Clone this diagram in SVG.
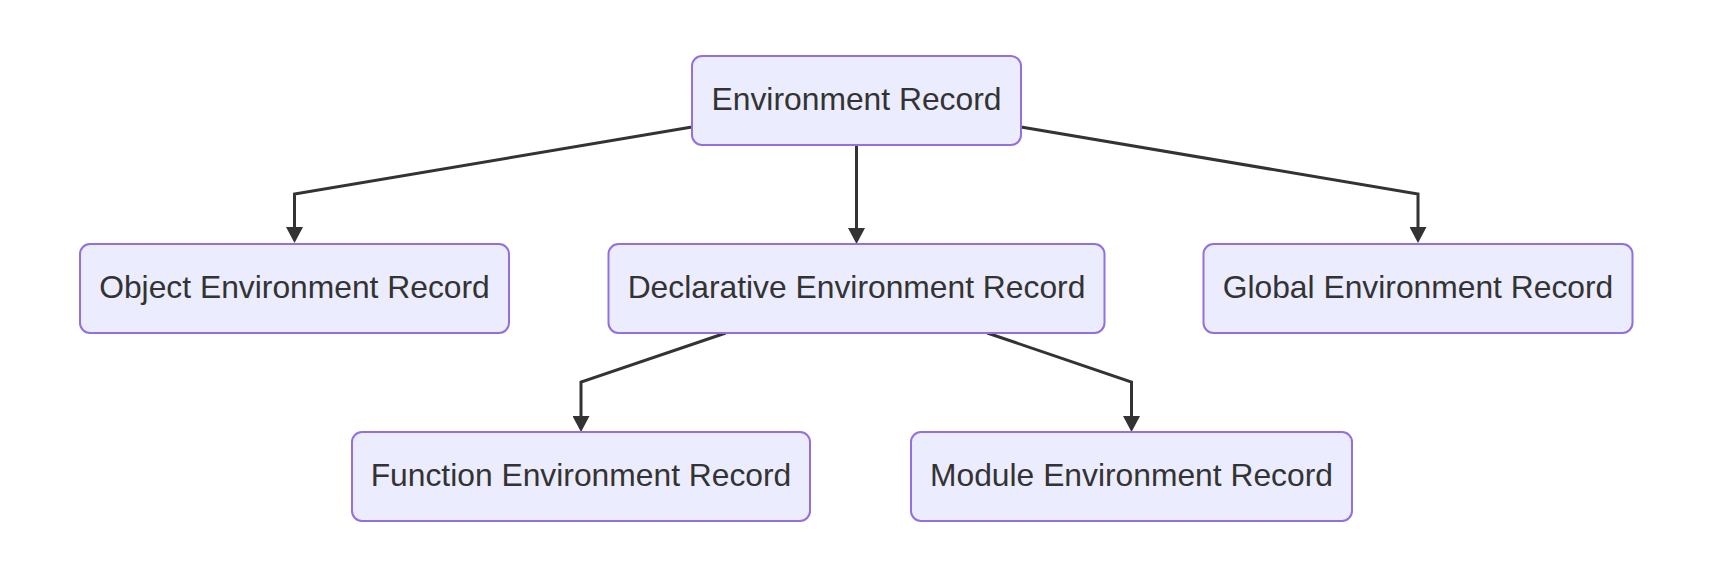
<svg xmlns="http://www.w3.org/2000/svg" width="1712" height="578" viewBox="0 0 1712 578">
<style>
.node rect{fill:#ECECFF;stroke:#9370DB;stroke-width:2}
.node text{font-family:"Liberation Sans",Arial,sans-serif;font-size:31.8px;fill:#333;text-anchor:middle}
.edge{fill:none;stroke:#333;stroke-width:3;marker-end:url(#arrow)}
</style>
<defs>
<marker id="arrow" viewBox="0 0 16 17" refX="1" refY="8.5" markerWidth="16" markerHeight="17" markerUnits="userSpaceOnUse" orient="auto">
<path d="M0,0 L16,8.5 L0,17 z" fill="#333"/>
</marker>
</defs>
<rect width="1712" height="578" fill="#fff"/>
<g id="connectors">
<polyline class="edge" points="692,127 294.5,194 294.5,228"/>
<polyline class="edge" points="856.5,145 856.5,229"/>
<polyline class="edge" points="1021,127 1418,194 1418,228"/>
<polyline class="edge" points="725.7,333 581,382 581,417"/>
<polyline class="edge" points="987.3,333 1131.5,382 1131.5,417"/>
</g>
<g id="env" class="node"><rect x="692" y="56" width="329" height="89" rx="10"/><text x="856.5" y="110">Environment Record</text></g>
<g id="object" class="node"><rect x="80" y="244" width="429" height="89" rx="10"/><text x="294.5" y="298">Object Environment Record</text></g>
<g id="declarative" class="node"><rect x="608.5" y="244" width="496" height="89" rx="10"/><text x="856.5" y="298">Declarative Environment Record</text></g>
<g id="global" class="node"><rect x="1203.5" y="244" width="429" height="89" rx="10"/><text x="1418" y="298">Global Environment Record</text></g>
<g id="function" class="node"><rect x="352" y="432" width="458" height="89" rx="10"/><text x="581" y="486">Function Environment Record</text></g>
<g id="module" class="node"><rect x="911" y="432" width="441" height="89" rx="10"/><text x="1131.5" y="486">Module Environment Record</text></g>
</svg>
